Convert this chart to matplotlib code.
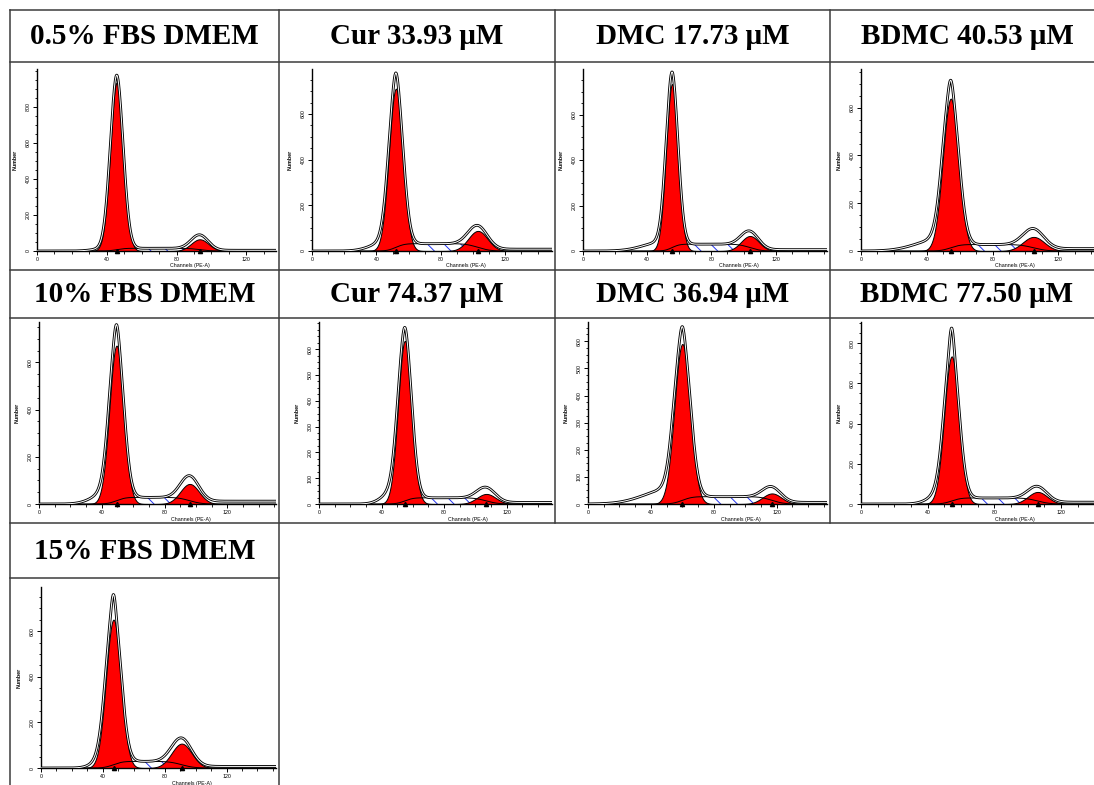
import numpy as np
import matplotlib.pyplot as plt
from math import erf

W, H = 1094, 785

# panel titles, left-to-right, top-to-bottom
titles = ['0.5% FBS DMEM', 'Cur 33.93 μM', 'DMC 17.73 μM', 'BDMC 40.53 μM',
          '10% FBS DMEM', 'Cur 74.37 μM', 'DMC 36.94 μM', 'BDMC 77.50 μM',
          '15% FBS DMEM']

# axis ranges
y_max = [1010, 797, 800, 762, 771, 705, 671, 905, 794]
y_step = [200, 200, 200, 200, 200, 100, 100, 200, 200]
x_max = [137, 149, 152, 146, 151, 149, 152, 144, 152]

# G0/G1 peak (channel, sd, fitted height, data height)
g1_mean = [45.7, 52.1, 55.5, 54.6, 49.4, 54.9, 60.0, 54.4, 46.9]
g1_sd = [3.7, 4.3, 3.7, 4.8, 4.5, 4.3, 5.0, 4.4, 4.8]
g1_fit = [935, 711, 734, 638, 671, 632, 590, 734, 651]
g1_data = [976, 780, 787, 715, 760, 684, 654, 875, 761]

# G2/M peak
g2_mean = [93.3, 103, 104, 105, 96, 107, 117, 106, 91]
g2_sd = [5.0, 6.0, 5.5, 6.5, 6.0, 6.0, 6.0, 5.8, 6.5]
g2_fit = [65, 88, 66, 59, 85, 39, 39, 60, 107]
g2_data = [90, 112, 88, 94, 120, 65, 64, 88, 132]

# S phase plateau, debris shoulder (centre, sd, height), aggregates tail
s_level = [15, 32, 30, 27, 28, 24, 27, 30, 29]
debris_c = [40, 46, 50, 48, 44, 48, 52, 48, 42]
debris_sd = [7, 9, 12, 14, 9, 7, 16, 7, 7]
debris_h = [15, 40, 40, 50, 52, 50, 55, 50, 45]
tail = [4, 8, 6, 10, 12, 6, 6, 9, 7]

# table layout (pixels)
col_edges = [10, 279, 555, 830, 1104]
rows = [(10, 62, 270), (270, 318, 523), (523, 578, 787)]
top_pad = [7, 4, 9]
left_pad = [27, 33, 28, 31, 29, 40, 33, 31, 31]

erf_v = np.vectorize(erf)


def gauss(x, m, sd, h):
    return h * np.exp(-0.5 * ((x - m) / sd) ** 2)


def step(x, m, sd):
    return 0.5 * (1 + erf_v((x - m) / (np.sqrt(2) * sd)))


def debris(x, i):
    sd = np.where(x < debris_c[i], debris_sd[i], g1_sd[i])
    return debris_h[i] * np.exp(-0.5 * ((x - debris_c[i]) / sd) ** 2)


plt.rcParams['hatch.linewidth'] = 0.7

fig = plt.figure(figsize=(W / 100, H / 100), dpi=100)
bg = fig.add_axes([0, 0, 1, 1])
bg.set_xlim(0, W)
bg.set_ylim(H, 0)
bg.axis('off')

line_kw = dict(color='#3c3c3c', lw=1.1)
for y in [10, 62, 270, 318, 523]:
    bg.plot([10, W], [y, y], **line_kw)
bg.plot([10, 279], [578, 578], **line_kw)
for x in [10, 279]:
    bg.plot([x, x], [10, H], **line_kw)
for x in [555, 830]:
    bg.plot([x, x], [10, 523], **line_kw)

small = dict(fontsize=3.8, family='Liberation Sans')

for i, title in enumerate(titles):
    r, c = divmod(i, 4)
    t_top, p_top, p_bot = rows[r]
    cl, cr = col_edges[c], col_edges[c + 1]
    bg.text((cl + cr) / 2, (t_top + p_top) / 2 + 1, title, ha='center', va='center',
            fontsize=21, fontweight='bold', family='Liberation Serif')

    left = cl + left_pad[i]
    right = cr - 3
    bottom = p_bot - 19
    top = p_top + top_pad[r]
    ax = fig.add_axes([left / W, 1 - bottom / H, (right - left) / W, (bottom - top) / H])

    x = np.linspace(0, x_max[i], 800)
    s = s_level[i] * (step(x, g1_mean[i], g1_sd[i]) - step(x, g2_mean[i], g2_sd[i]))
    g1 = gauss(x, g1_mean[i], g1_sd[i], g1_fit[i])
    g2 = gauss(x, g2_mean[i], g2_sd[i], g2_fit[i])
    deb = debris(x, i)
    tl = tail[i] * step(x, g2_mean[i], g2_sd[i])

    at_g1 = np.array([g1_mean[i]])
    ex1 = max(g1_data[i] - (g1_fit[i] + s_level[i] / 2 + debris(at_g1, i)[0]), 0)
    ex2 = max(g2_data[i] - (g2_fit[i] + s_level[i] / 2 + tail[i] / 2), 0)
    data = (s + g1 + g2 + deb + tl + gauss(x, g1_mean[i], 1.3, ex1)
            + gauss(x, g2_mean[i], g2_sd[i] * 0.9, ex2))

    ax.fill_between(x, 0, s, facecolor='white', edgecolor='#2233ee', hatch='\\\\',
                    linewidth=0, zorder=1)
    ax.fill_between(x, 0, g1, facecolor='#ff0000', edgecolor='black', linewidth=0.7, zorder=2)
    ax.fill_between(x, 0, g2, facecolor='#ff0000', edgecolor='black', linewidth=0.7, zorder=2)
    ax.plot(x, s, color='black', lw=0.7, zorder=3)
    ax.plot(x, data, color='black', lw=2.0, zorder=4)
    ax.plot(x, data, color='white', lw=0.7, zorder=5)
    ax.plot([g1_mean[i], g2_mean[i]], [0, 0], ls='none', marker='^', ms=3,
            color='black', clip_on=False, zorder=6)

    ax.set_xlim(0, x_max[i])
    ax.set_ylim(0, y_max[i])
    for side in ['top', 'right']:
        ax.spines[side].set_visible(False)
    for side in ['left', 'bottom']:
        ax.spines[side].set_linewidth(1.0)
    ax.set_xticks([0, 40, 80, 120])
    ax.set_xticks(np.arange(0, x_max[i], 10), minor=True)
    ax.set_yticks(np.arange(0, y_max[i] - y_step[i] / 2, y_step[i]))
    ax.set_yticks(np.arange(0, y_max[i], y_step[i] / 4), minor=True)
    ax.tick_params(which='major', length=3, width=0.7, pad=1.5)
    ax.tick_params(which='minor', length=1.8, width=0.6)
    for lab in ax.get_xticklabels() + ax.get_yticklabels():
        lab.set_fontsize(small['fontsize'])
        lab.set_family(small['family'])
    for lab in ax.get_yticklabels():
        lab.set_rotation(90)
        lab.set_va('center')
    ax_h = bottom - top
    ax_w = right - left
    ax.text(-22 / ax_w, 0.5, 'Number', rotation=90, ha='center', va='center',
            transform=ax.transAxes, fontweight='bold', **small)
    ax.text(0.64, -15 / ax_h, 'Channels (PE-A)', ha='center', va='center',
            transform=ax.transAxes, **small)
    ax.patch.set_alpha(0)

fig.savefig('out.png', dpi=100)
